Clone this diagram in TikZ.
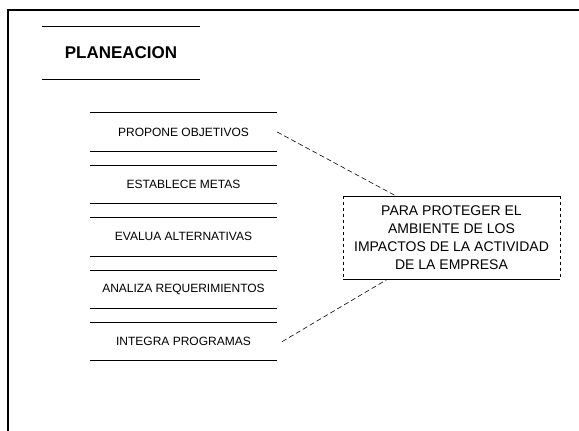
\documentclass[tikz,border=0pt]{standalone}
\usepackage{fontspec}
\setmainfont{Liberation Sans}
\usetikzlibrary{positioning}

\tikzset{
  paso/.style={minimum width=187pt, minimum height=38pt, inner sep=0pt,
    font=\fontsize{12}{14}\selectfont},
  raya/.style={line width=0.9pt},
  lado/.style={line width=0.5pt, dash pattern=on 3pt off 3pt},
  enlace/.style={line width=0.6pt, dash pattern=on 5pt off 3pt}
}

\begin{document}
\begin{tikzpicture}[x=1pt,y=-1pt]
  \useasboundingbox (0,0) rectangle (579,431);
  % marco
  \draw[line width=1.4pt] (579,10) -- (8,10) -- (8,431);

  % titulo
  \node[font=\bfseries\fontsize{17}{20}\selectfont, minimum width=158pt,
    minimum height=52pt, inner sep=0pt] (plan) at (121,53) {PLANEACION};
  \draw[raya] (plan.north west) -- (plan.north east)
              (plan.south west) -- (plan.south east);

  % acciones
  \node[paso] (p1) at (183.5,132) {PROPONE OBJETIVOS};
  \node[paso, below=14pt of p1] (p2) {ESTABLECE METAS};
  \node[paso, below=14pt of p2] (p3) {EVALUA ALTERNATIVAS};
  \node[paso, below=14pt of p3] (p4) {ANALIZA REQUERIMIENTOS};
  \node[paso, below=14pt of p4] (p5) {INTEGRA PROGRAMAS};
  \foreach \i in {1,...,5}
    \draw[raya] (p\i.north west) -- (p\i.north east)
                (p\i.south west) -- (p\i.south east);

  % proposito
  \node[align=center, minimum width=217pt, minimum height=83pt, inner sep=0pt,
    font=\fontsize{14}{18}\selectfont] (meta) at (451.5,238)
    {PARA PROTEGER EL\\AMBIENTE DE LOS\\IMPACTOS DE LA ACTIVIDAD\\DE LA EMPRESA};
  \draw[raya] (meta.north west) -- (meta.north east)
              (meta.south west) -- (meta.south east);
  \draw[lado] (meta.north west) -- (meta.south west)
              (meta.north east) -- (meta.south east);

  % enlaces
  \coordinate (c1) at (397,196.5);
  \coordinate (c2) at (387,279.5);
  \draw[enlace] (p1.east) -- (c1);
  \draw[enlace] ([xshift=5pt]p5.east) -- (c2);
\end{tikzpicture}
\end{document}
